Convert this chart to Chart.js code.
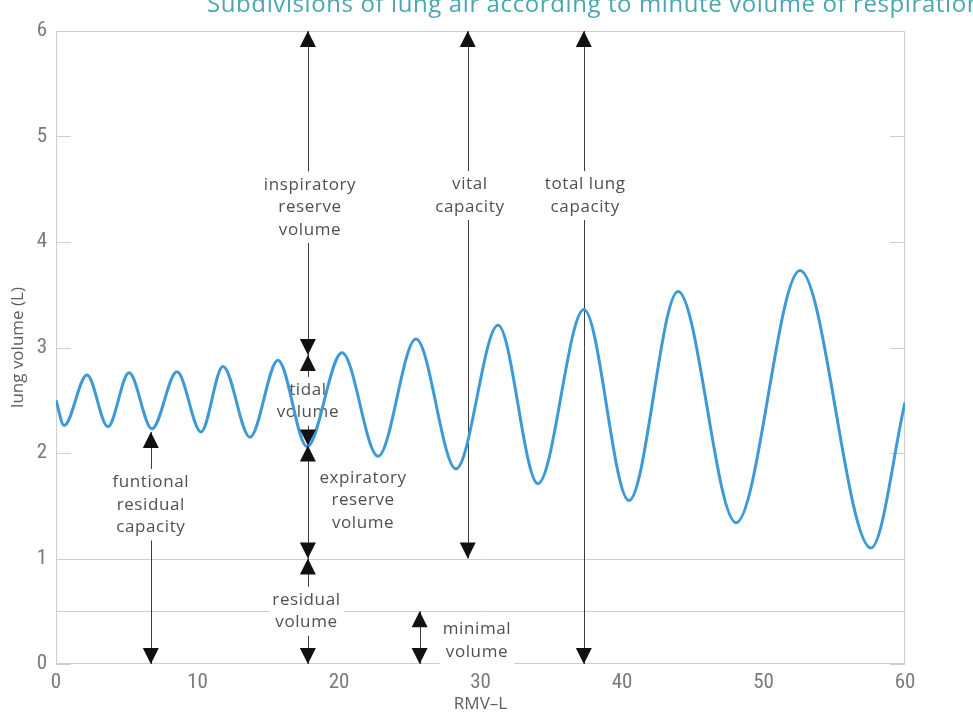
<!DOCTYPE html>
<html>
<head>
<meta charset="utf-8">
<script src="https://cdn.jsdelivr.net/npm/chart.js@4.4.1/dist/chart.umd.min.js"></script>
<style>
  body{margin:0;background:#fff;}
  #wrap{position:relative;width:973px;height:721px;overflow:hidden;}
  #cap{position:absolute;left:207px;top:-14px;font:24px 'Open Sans',sans-serif;color:#4aa6b2;white-space:nowrap;letter-spacing:0.6px;}
</style>
</head>
<body>
<div id="wrap">
  <canvas id="lungChart" width="973" height="721"></canvas>
  <div id="cap">Subdivisions of lung air according to minute volume of respiration</div>
</div>
<script>
// RMV (L) at each turning point of the breathing trace, and lung volume there
var rmv    = [0, 0.57, 2.19, 3.67, 5.16, 6.78, 8.55, 10.25, 11.8, 13.71, 15.69, 17.74, 20.21, 22.76, 25.44, 28.27, 31.24, 34.06, 37.31, 40.49, 43.96, 48.06, 52.58, 57.6, 60];
var volume = [2.5, 2.26, 2.74, 2.25, 2.76, 2.23, 2.77, 2.2, 2.82, 2.15, 2.88, 2.06, 2.95, 1.97, 3.08, 1.85, 3.21, 1.71, 3.36, 1.55, 3.53, 1.34, 3.73, 1.1, 2.48];

var xTicks = [0, 10, 20, 30, 40, 50, 60];
var yTicks = [0, 1, 2, 3, 4, 5, 6];
var refLines = [1, 0.5];

// measuring arrows: shaft from lo to hi at x, plus the heads (y, up/down)
var shafts = [
  {x: 6.7,  lo: 0, hi: 2.2},
  {x: 17.8, lo: 0, hi: 6},
  {x: 29.1, lo: 1, hi: 6},
  {x: 37.3, lo: 0, hi: 6},
  {x: 25.7, lo: 0, hi: 0.5}
];
var heads = [
  {x: 6.7, y: 2.2, up: true}, {x: 6.7, y: 0, up: false},
  {x: 17.8, y: 6, up: true}, {x: 17.8, y: 2.93, up: false}, {x: 17.8, y: 2.93, up: true},
  {x: 17.8, y: 2.07, up: false}, {x: 17.8, y: 2.07, up: true},
  {x: 17.8, y: 1, up: false}, {x: 17.8, y: 1, up: true}, {x: 17.8, y: 0, up: false},
  {x: 29.1, y: 6, up: true}, {x: 29.1, y: 1, up: false},
  {x: 37.3, y: 6, up: true}, {x: 37.3, y: 0, up: false},
  {x: 25.7, y: 0.5, up: true}, {x: 25.7, y: 0, up: false}
];
var notes = [
  {x: 6.7,   y: 1.51, text: ['funtional', 'residual', 'capacity']},
  {x: 17.95, y: 4.33, text: ['inspiratory', 'reserve', 'volume']},
  {x: 29.25, y: 4.44, text: ['vital', 'capacity']},
  {x: 37.4,  y: 4.44, text: ['total lung', 'capacity']},
  {x: 17.8,  y: 2.49, text: ['tidal', 'volume']},
  {x: 21.7,  y: 1.55, text: ['expiratory', 'reserve', 'volume']},
  {x: 17.7,  y: 0.5,  text: ['residual', 'volume']},
  {x: 29.75, y: 0.22, text: ['minimal', 'volume']}
];

var points = [];
for (var i in rmv) {
  points.push({x: rmv[i], y: volume[i]});
}

function seg(ctx, x1, y1, x2, y2) {
  ctx.beginPath();
  ctx.moveTo(x1, y1);
  ctx.lineTo(x2, y2);
  ctx.stroke();
}

var drawing = {
  id: 'drawing',
  beforeDatasetsDraw: function(chart) {
    var ctx = chart.ctx, a = chart.chartArea, xs = chart.scales.x, ys = chart.scales.y;
    ctx.save();
    ctx.strokeStyle = '#cdcdcd';
    ctx.lineWidth = 1;
    ctx.strokeRect(a.left + 0.5, a.top + 0.5, a.width - 1, a.height - 1);
    yTicks.forEach(function(v){
      var py = Math.round(ys.getPixelForValue(v)) + 0.5;
      seg(ctx, a.left, py, a.left + 15, py);
      seg(ctx, a.right - 15, py, a.right, py);
    });
    refLines.forEach(function(v){
      var py = Math.round(ys.getPixelForValue(v)) + 0.5;
      seg(ctx, a.left, py, a.right, py);
    });
    ctx.strokeStyle = '#3c3c3c';
    shafts.forEach(function(s){
      var px = Math.round(xs.getPixelForValue(s.x)) + 0.5;
      seg(ctx, px, ys.getPixelForValue(s.lo), px, ys.getPixelForValue(s.hi));
    });
    ctx.font = "17px 'Open Sans', sans-serif";
    ctx.letterSpacing = '0.6px';
    ctx.textAlign = 'center';
    ctx.textBaseline = 'middle';
    var lh = 22.5;
    notes.forEach(function(n){
      var px = xs.getPixelForValue(n.x), py = ys.getPixelForValue(n.y);
      var w = 0;
      n.text.forEach(function(t){ w = Math.max(w, ctx.measureText(t).width); });
      var h = lh * n.text.length;
      ctx.fillStyle = '#fff';
      ctx.fillRect(px - w / 2 - 3, py - h / 2 - 2, w + 6, h + 4);
      ctx.fillStyle = '#505050';
      n.text.forEach(function(t, k){
        ctx.fillText(t, px, py - h / 2 + lh * (k + 0.5));
      });
    });
    ctx.restore();
  },
  afterDatasetsDraw: function(chart) {
    var ctx = chart.ctx, xs = chart.scales.x, ys = chart.scales.y;
    ctx.save();
    ctx.fillStyle = '#111';
    heads.forEach(function(hd){
      var px = xs.getPixelForValue(hd.x), py = ys.getPixelForValue(hd.y);
      var d = hd.up ? 16 : -16;
      ctx.beginPath();
      ctx.moveTo(px, py);
      ctx.lineTo(px - 8, py + d);
      ctx.lineTo(px + 8, py + d);
      ctx.closePath();
      ctx.fill();
    });
    ctx.restore();
  }
};

var tickFont = {family: "'Liberation Sans Narrow', 'Roboto Condensed', Roboto, sans-serif", size: 21};
var titleFont = {family: "'Open Sans', sans-serif", size: 17};

var ctx = document.getElementById('lungChart');
var lungChart = new Chart(ctx, {
  type: 'line',
  data: {
    datasets: [{
      data: points,
      borderColor: '#3d9ad6',
      borderWidth: 3,
      pointRadius: 0,
      fill: false,
      cubicInterpolationMode: 'monotone'
    }]
  },
  options: {
    responsive: false,
    animation: false,
    layout: {padding: {top: 31, right: 68, left: 0, bottom: 0}},
    plugins: {legend: {display: false}, tooltip: {enabled: false}},
    scales: {
      x: {
        type: 'linear', min: 0, max: 60,
        afterBuildTicks: function(s){ s.ticks = xTicks.map(function(v){ return {value: v}; }); },
        afterFit: function(s){ s.height = 57; },
        ticks: {color: '#7a7a7a', font: tickFont, padding: 6, maxRotation: 0},
        grid: {display: false, drawTicks: false},
        border: {display: false},
        title: {display: true, text: 'RMV–L', color: '#5e5e5e', font: titleFont, padding: {top: 0, bottom: 7}}
      },
      y: {
        min: 0, max: 6,
        afterBuildTicks: function(s){ s.ticks = yTicks.map(function(v){ return {value: v}; }); },
        afterFit: function(s){ s.width = 56; },
        ticks: {color: '#7a7a7a', font: tickFont, padding: 9},
        grid: {display: false, drawTicks: false},
        border: {display: false},
        title: {display: true, text: 'lung volume (L)', color: '#5e5e5e', font: titleFont, padding: {top: 8, bottom: 0}}
      }
    }
  },
  plugins: [drawing]
});
</script>
</body>
</html>
